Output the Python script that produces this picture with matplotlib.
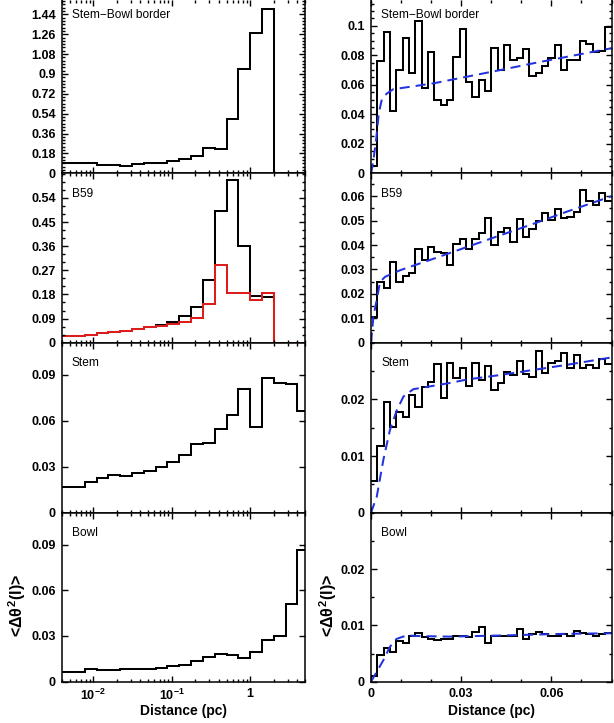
import numpy as np
import matplotlib
matplotlib.use("Agg")
import matplotlib.pyplot as plt
from matplotlib.ticker import FixedLocator, MultipleLocator, LogLocator, FuncFormatter, NullFormatter

plt.rcParams['font.family'] = ['Liberation Sans', 'DejaVu Sans']
plt.rcParams['font.weight'] = 'bold'
plt.rcParams['mathtext.fontset'] = 'custom'
plt.rcParams['mathtext.rm'] = 'Liberation Sans:bold'
plt.rcParams['mathtext.it'] = 'Liberation Sans:bold'
plt.rcParams['mathtext.bf'] = 'Liberation Sans:bold'

# ---- left column: dispersion vs. distance, bins of sqrt(2) in distance (pc) ----
log_edges = np.concatenate([[0.003], 2.0 ** (np.arange(-14, 5) / 2), [6.0]])

border_hist = [0.090, 0.090, 0.078, 0.078, 0.069, 0.081, 0.090, 0.096, 0.111, 0.129,
               0.159, 0.232, 0.220, 0.491, 0.949, 1.274, 1.485, 0.0, 0.0, 0.0]
b59_hist = [0.026, 0.0286, 0.036, 0.040, 0.045, 0.050, 0.058, 0.065, 0.076, 0.099,
            0.135, 0.235, 0.492, 0.606, 0.362, 0.174, 0.171, 0.0, 0.0, 0.0]
b59_hist_red = [0.026, 0.0286, 0.036, 0.040, 0.045, 0.051, 0.058, 0.063, 0.070, 0.078,
                0.094, 0.145, 0.290, 0.184, 0.186, 0.159, 0.184, 0.0, 0.0, 0.0]
stem_hist = [0.0170, 0.0202, 0.0228, 0.0246, 0.0239, 0.0257, 0.0272, 0.0298, 0.0330, 0.0374,
             0.0448, 0.0454, 0.0543, 0.0639, 0.0809, 0.0559, 0.0878, 0.0846, 0.0839, 0.0665]
bowl_hist = [0.0061, 0.0083, 0.0078, 0.0076, 0.0081, 0.0083, 0.0085, 0.0092, 0.0100, 0.0109,
             0.0137, 0.0163, 0.0183, 0.0176, 0.0157, 0.0196, 0.0272, 0.0298, 0.0508, 0.0867]

# ---- right column: structure function at small lags ----
lag_edges = np.linspace(0.0, 0.08, 39)

border_sf = [0.0052, 0.0762, 0.096, 0.042, 0.070, 0.092, 0.068, 0.103, 0.058, 0.082,
             0.050, 0.046, 0.050, 0.079, 0.098, 0.062, 0.052, 0.063, 0.056, 0.085,
             0.070, 0.087, 0.077, 0.078, 0.084, 0.066, 0.068, 0.073, 0.078, 0.087,
             0.070, 0.077, 0.077, 0.090, 0.088, 0.082, 0.083, 0.099]
b59_sf = [0.0106, 0.0249, 0.0226, 0.0331, 0.0249, 0.0272, 0.0286, 0.0382, 0.0340, 0.0392,
          0.0371, 0.0367, 0.0317, 0.0403, 0.0426, 0.0385, 0.0426, 0.0449, 0.0512, 0.0399,
          0.0453, 0.0471, 0.0412, 0.0506, 0.0435, 0.0467, 0.0498, 0.0531, 0.0503, 0.0548,
          0.0512, 0.0514, 0.0535, 0.0627, 0.0582, 0.0565, 0.0614, 0.0580]
stem_sf = [0.0056, 0.0118, 0.0195, 0.0152, 0.0178, 0.0169, 0.0208, 0.0186, 0.0222, 0.0231,
           0.0262, 0.0203, 0.0265, 0.0237, 0.0255, 0.0224, 0.0265, 0.0235, 0.0259, 0.0216,
           0.0229, 0.0248, 0.0243, 0.0268, 0.0244, 0.0240, 0.0286, 0.0246, 0.0265, 0.0268,
           0.0282, 0.0256, 0.0278, 0.0255, 0.0261, 0.0256, 0.0272, 0.0262]
bowl_sf = [0.0011, 0.0047, 0.0060, 0.0053, 0.0072, 0.0068, 0.0081, 0.0087, 0.0079, 0.0076,
           0.0074, 0.0076, 0.0075, 0.0081, 0.0082, 0.0079, 0.0088, 0.0097, 0.0069, 0.0081,
           0.0081, 0.0081, 0.0081, 0.0094, 0.0076, 0.0085, 0.0088, 0.0084, 0.0082, 0.0081,
           0.0084, 0.0082, 0.0090, 0.0086, 0.0085, 0.0081, 0.0085, 0.0086]

# fitted curves (dashed)
border_fit_x = [0, 0.0008, 0.0017, 0.0026, 0.0036, 0.0052, 0.0074, 0.0208, 0.0319, 0.043, 0.054, 0.0652, 0.08]
border_fit_y = [0, 0.009, 0.0226, 0.041, 0.050, 0.054, 0.057, 0.061, 0.0655, 0.070, 0.0746, 0.079, 0.0848]
b59_fit_x = [0, 0.0008, 0.0021, 0.003, 0.0047, 0.0097, 0.0208, 0.0319, 0.043, 0.054, 0.0652, 0.08]
b59_fit_y = [0, 0.0106, 0.0188, 0.0249, 0.027, 0.0297, 0.0344, 0.0392, 0.0440, 0.0487, 0.0537, 0.0600]
stem_fit_x = [0, 0.0019, 0.0041, 0.0063, 0.0086, 0.0108, 0.0141, 0.0186, 0.0263, 0.0319, 0.043, 0.0541, 0.0652, 0.08]
stem_fit_y = [0, 0.0028, 0.0093, 0.0146, 0.0181, 0.0205, 0.0218, 0.0222, 0.0229, 0.0235, 0.0243, 0.0252, 0.0261, 0.0274]
bowl_fit_x = [0, 0.0041, 0.0063, 0.0085, 0.0118, 0.0163, 0.0262, 0.0428, 0.065, 0.08]
bowl_fit_y = [0, 0.0038, 0.0062, 0.0076, 0.0082, 0.0081, 0.0080, 0.0082, 0.0085, 0.0086]

names = ['Stem\u2212Bowl border', 'B59', 'Stem', 'Bowl']
left_hists = [border_hist, b59_hist, stem_hist, bowl_hist]
right_sfs = [border_sf, b59_sf, stem_sf, bowl_sf]
fits = [(border_fit_x, border_fit_y), (b59_fit_x, b59_fit_y),
        (stem_fit_x, stem_fit_y), (bowl_fit_x, bowl_fit_y)]

left_ylim = [1.57, 0.632, 0.1109, 0.1109]
left_major = [0.18, 0.09, 0.03, 0.03]
left_top_tick = [1.44, 0.54, 0.09, 0.09]
left_minor = [0.03, 0.03, None, None]
right_ylim = [0.1175, 0.0694, 0.030, 0.030]
right_major = [0.02, 0.01, 0.01, 0.01]
right_top_tick = [0.1, 0.06, 0.02, 0.02]
right_minor = [0.005, 0.005, 0.005, 0.005]

W, H = 614, 723
fig = plt.figure(figsize=(W / 100, H / 100), dpi=100)

# panel rows in pixels from the top (top, bottom)
rows = [(0.0, 173.3), (173.3, 342.7), (342.7, 512.7), (512.7, 681.7)]
col_left = (62, 305)
col_right = (371, 611.5)

num_fmt = FuncFormatter(lambda v, p: '%g' % round(v, 6))
black = '#000000'
red = '#dd1c1c'
blue = '#2233dd'
lw = 1.45


def make_axes(col, row):
    x0, x1 = col
    t, b = row
    return fig.add_axes([x0 / W, 1 - b / H, (x1 - x0) / W, (b - t) / H])


def style(ax):
    for s in ax.spines.values():
        s.set_linewidth(1.1)
    ax.tick_params(which='both', direction='in', top=True, right=True,
                   width=1.0, labelsize=9, pad=4.5)
    ax.tick_params(which='major', length=4.3)
    ax.tick_params(which='minor', length=2.2)


for i in range(4):
    row = rows[i]
    bottom_row = (i == 3)
    label_off = 8.5 if i == 0 else 14.5
    height_px = row[1] - row[0]

    # left: log distance
    ax = make_axes(col_left, row)
    ax.set_xscale('log')
    ax.stairs(left_hists[i], log_edges, baseline=None, color=black, lw=lw)
    if i == 1:
        ax.stairs(b59_hist_red, log_edges, baseline=None, color=red, lw=lw)
    ax.set_xlim(0.004, 5)
    ax.set_ylim(0, left_ylim[i])
    ax.xaxis.set_major_locator(FixedLocator([0.01, 0.1, 1]))
    ax.xaxis.set_minor_locator(LogLocator(base=10, subs=np.arange(2, 10)))
    ax.xaxis.set_minor_formatter(NullFormatter())
    if bottom_row:
        ax.set_xticklabels([r'$10^{-2}$', r'$10^{-1}$', '1'])
    else:
        ax.tick_params(labelbottom=False)
    ax.set_yticks(np.arange(0, left_top_tick[i] + 1e-9, left_major[i]))
    ax.yaxis.set_major_formatter(num_fmt)
    if left_minor[i]:
        ax.yaxis.set_minor_locator(MultipleLocator(left_minor[i]))
    style(ax)
    if i == 0:
        ax.spines['top'].set_visible(False)
    ax.text(10 / 243, 1 - label_off / height_px, names[i], transform=ax.transAxes,
            ha='left', va='top', fontsize=8.6, fontweight='normal')

    # right: linear distance
    ax = make_axes(col_right, row)
    ax.stairs(right_sfs[i], lag_edges, baseline=None, color=black, lw=lw)
    fx, fy = fits[i]
    ax.plot(fx, fy, color=blue, lw=lw, dashes=(5, 3))
    ax.set_xlim(0, 0.08)
    ax.set_ylim(0, right_ylim[i])
    ax.xaxis.set_major_locator(MultipleLocator(0.03))
    ax.xaxis.set_minor_locator(MultipleLocator(0.01))
    ax.xaxis.set_major_formatter(num_fmt)
    if not bottom_row:
        ax.tick_params(labelbottom=False)
    ax.set_yticks(np.arange(0, right_top_tick[i] + 1e-9, right_major[i]))
    ax.yaxis.set_major_formatter(num_fmt)
    ax.yaxis.set_minor_locator(MultipleLocator(right_minor[i]))
    style(ax)
    if i == 0:
        ax.spines['top'].set_visible(False)
    ax.text(10 / 240.5, 1 - label_off / height_px, names[i], transform=ax.transAxes,
            ha='left', va='top', fontsize=8.6, fontweight='normal')

# axis titles
ylab = r'<$\Delta\theta^{2}$(l)>'
fig.text(17 / W, 1 - 605 / H, ylab, rotation=90, ha='center', va='center',
         fontsize=11.5, fontweight='bold')
fig.text(328 / W, 1 - 605 / H, ylab, rotation=90, ha='center', va='center',
         fontsize=11.5, fontweight='bold')
fig.text((62 + 305) / 2 / W, 1 - 711 / H, 'Distance (pc)', ha='center', va='center',
         fontsize=10, fontweight='bold')
fig.text((371 + 611.5) / 2 / W, 1 - 711 / H, 'Distance (pc)', ha='center', va='center',
         fontsize=10, fontweight='bold')

fig.savefig('out.png', dpi=100)
